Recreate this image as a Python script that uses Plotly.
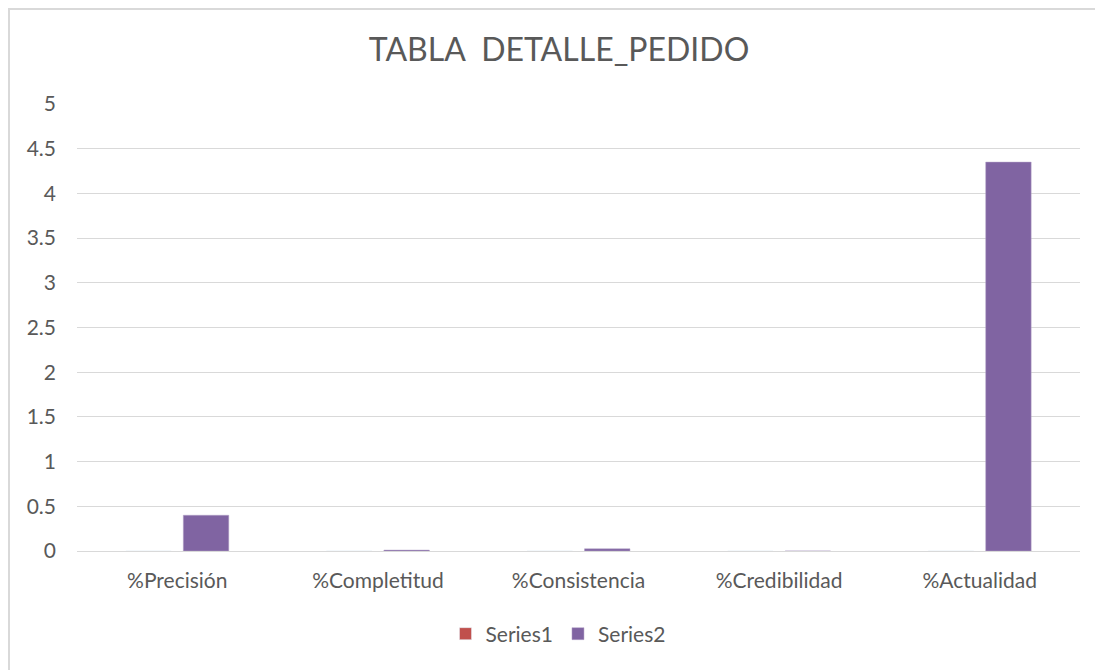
import plotly.graph_objects as go

categories = ["%Precisión", "%Completitud", "%Consistencia", "%Credibilidad", "%Actualidad"]
series1 = [0, 0, 0, 0, 0]
series2 = [0.40, 0.01, 0.025, 0, 4.35]

FONT = "Lato, Open Sans, sans-serif"
GREY = "#595959"

W, H = 1095, 662
ML, MR, MT, MB = 69, 23, 96, 119
PW, PH = W - ML - MR, H - MT - MB

fig = go.Figure()
fig.add_trace(go.Bar(x=categories, y=series1, name="Series1",
                     marker=dict(color="#C0504D")))
fig.add_trace(go.Bar(x=categories, y=series2, name="Series2",
                     marker=dict(color="#8064A2", line=dict(color="#B3A2C7", width=0.5))))

# marco del gráfico (borde exterior)
fig.add_shape(type="rect", xref="paper", yref="paper",
              x0=(1 - ML) / PW, x1=(W + 20 - ML) / PW,
              y0=-(H + 20 - MT - PH) / PH, y1=1 + (MT - 1) / PH,
              line=dict(color="#D9D9D9", width=2), layer="below")

fig.update_layout(
    width=W, height=H,
    paper_bgcolor="white", plot_bgcolor="white",
    font=dict(family=FONT, color=GREY, size=21),
    title=dict(text="TABLA  DETALLE_PEDIDO", x=551 / W,
               xanchor="center", y=1 - 42 / H, yanchor="middle",
               font=dict(size=32, color=GREY, family=FONT)),
    barmode="group", bargap=0.427, bargroupgap=0.209,
    xaxis=dict(showgrid=False, showline=False, ticks="", ticklabelstandoff=15,
               tickfont=dict(size=21)),
    yaxis=dict(range=[0, 5], dtick=0.5, gridcolor="#D9D9D9", gridwidth=1,
               zeroline=True, zerolinecolor="#D9D9D9", zerolinewidth=1,
               showline=False, ticks="", ticklabelstandoff=20,
               tickfont=dict(size=21)),
    legend=dict(orientation="h", x=(550 - ML) / PW, xanchor="center",
                y=-(626 - MT - PH) / PH, yanchor="middle",
                font=dict(size=21), itemwidth=30),
    margin=dict(l=ML, r=MR, t=MT, b=MB),
    showlegend=True,
)

fig.write_html("out.html")
